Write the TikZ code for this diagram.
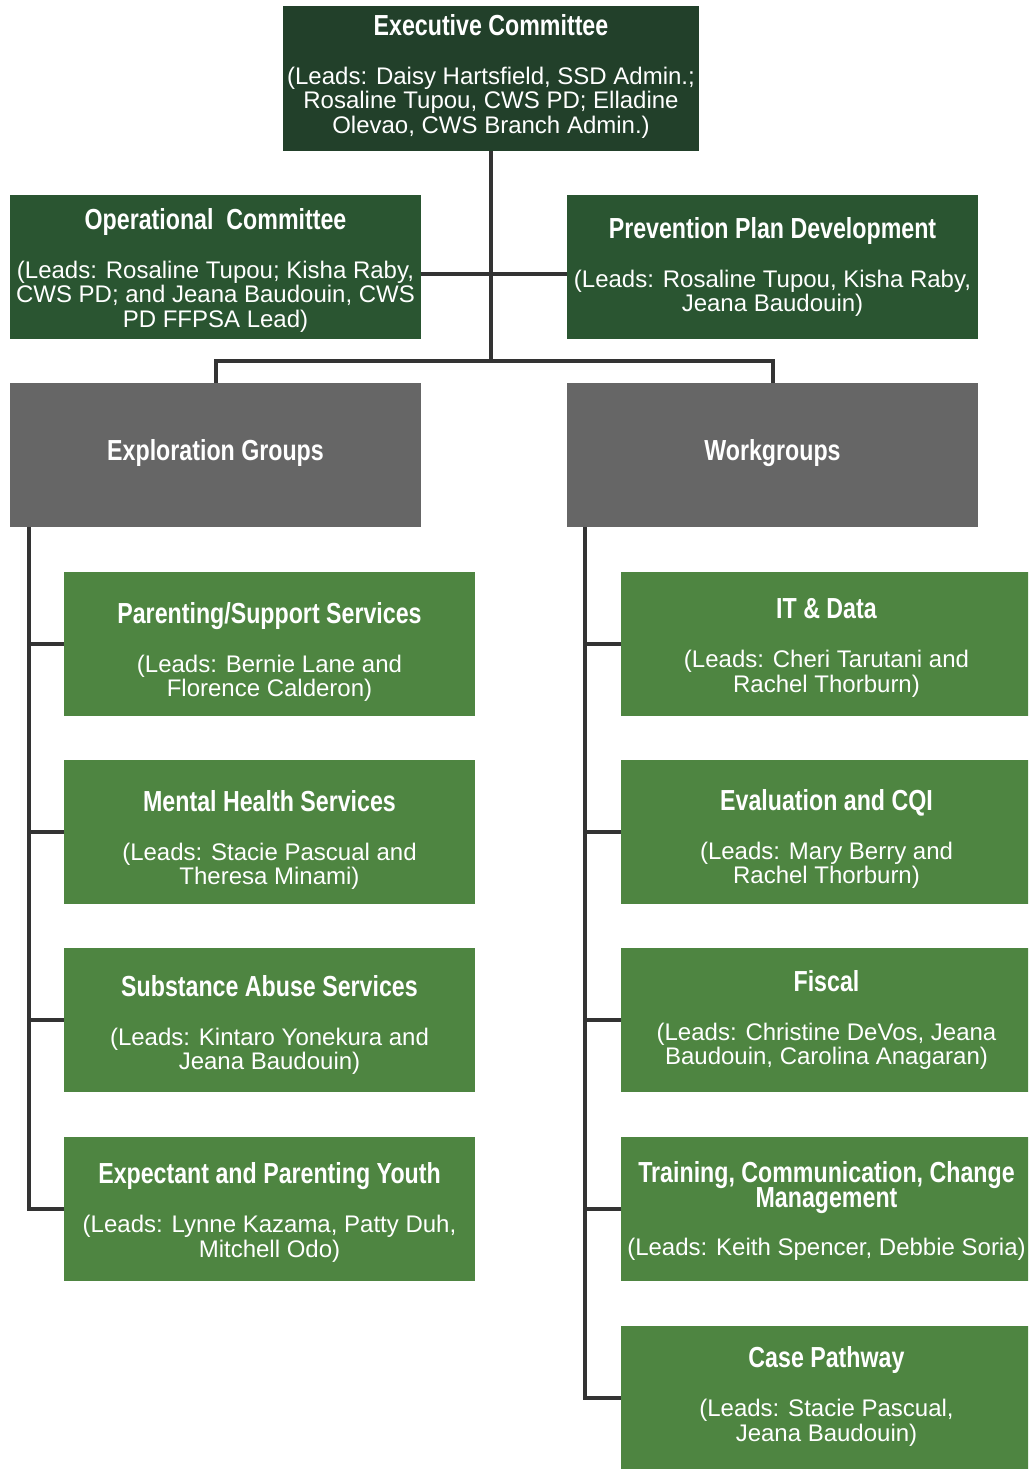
\documentclass[tikz,border=0pt]{standalone}
\usepackage{fontspec}
\setmainfont{Liberation Sans}
\newfontfamily\ttlfont[FakeStretch=0.8]{Liberation Sans}
\usepackage{xcolor}

\definecolor{execgreen}{HTML}{22402A}
\definecolor{opgreen}{HTML}{2A5531}
\definecolor{grpgray}{HTML}{666666}
\definecolor{leafgreen}{HTML}{4E8541}
\definecolor{linkgray}{HTML}{333333}

\newcommand{\ttl}[1]{{\ttlfont\bfseries\fontsize{29}{24.5}\selectfont #1}}
\newcommand{\boxtext}[2]{\ttl{#1}\\[24.5pt]#2}

\tikzset{
  box/.style={minimum width=411pt, minimum height=144pt, inner sep=0pt},
  execbox/.style={box, fill=execgreen, minimum width=416pt, minimum height=145pt},
  opbox/.style={box, fill=opgreen},
  grpbox/.style={box, fill=grpgray},
  leafbox/.style={box, fill=leafgreen},
  boxlabel/.style={inner sep=0pt, align=center, text=white,
    font={\fontsize{24}{24.5}\selectfont\lineskiplimit=-50pt}},
  link/.style={draw=linkgray, line width=4pt}
}

\begin{document}
\begin{tikzpicture}[x=1pt,y=-1pt]
  \useasboundingbox (0,0) rectangle (1028,1469);
  \clip (0,0) rectangle (1028,1469);

  \node[execbox] (exec) at (491,78.5) {};
  \node[boxlabel] (exec-t) at ([yshift=2.5pt]exec.center) {\boxtext{Executive Committee}{(Leads: Daisy Hartsfield, SSD Admin.;\\Rosaline Tupou, CWS PD; Elladine\\Olevao, CWS Branch Admin.)}};

  \node[opbox] (oper) at (215.5,267) {};
  \node[boxlabel] (oper-t) at ([yshift=-3pt]oper.center) {\boxtext{Operational\ \ Committee}{(Leads: Rosaline Tupou; Kisha Raby,\\CWS PD; and Jeana Baudouin, CWS\\PD FFPSA Lead)}};
  \node[opbox] (prev) at (772.5,267) {};
  \node[boxlabel] (prev-t) at (prev.center) {\boxtext{Prevention Plan Development}{(Leads: Rosaline Tupou, Kisha Raby,\\Jeana Baudouin)}};

  \node[grpbox] (explore) at (215.5,455) {};
  \node[boxlabel] (explore-t) at ([yshift=2pt]explore.center) {\ttl{Exploration Groups}};
  \node[grpbox] (work) at (772.5,455) {};
  \node[boxlabel] (work-t) at ([yshift=2pt]work.center) {\ttl{Workgroups}};

  % exploration groups
  \node[leafbox] (parent) at (269.5,644) {};
  \node[boxlabel] (parent-t) at ([yshift=-8pt]parent.center) {\boxtext{Parenting/Support Services}{(Leads: Bernie Lane and\\Florence Calderon)}};
  \node[leafbox] (mental) at (269.5,832) {};
  \node[boxlabel] (mental-t) at ([yshift=-8pt]mental.center) {\boxtext{Mental Health Services}{(Leads: Stacie Pascual and\\Theresa Minami)}};
  \node[leafbox] (subst) at (269.5,1020) {};
  \node[boxlabel] (subst-t) at ([yshift=-5pt]subst.center) {\boxtext{Substance Abuse Services}{(Leads: Kintaro Yonekura and\\Jeana Baudouin)}};
  \node[leafbox] (youth) at (269.5,1209) {};
  \node[boxlabel] (youth-t) at ([yshift=-3.5pt]youth.center) {\boxtext{Expectant and Parenting Youth}{(Leads: Lynne Kazama, Patty Duh,\\Mitchell Odo)}};

  % workgroups
  \node[leafbox] (itdata) at (826.5,644) {};
  \node[boxlabel] (itdata-t) at ([yshift=-4pt]itdata.center) {\boxtext{IT \& Data}{(Leads: Cheri Tarutani and\\Rachel Thorburn)}};
  \node[leafbox] (eval) at (826.5,832) {};
  \node[boxlabel] (eval-t) at ([yshift=-7pt]eval.center) {\boxtext{Evaluation and CQI}{(Leads: Mary Berry and\\Rachel Thorburn)}};
  \node[leafbox] (fiscal) at (826.5,1020) {};
  \node[boxlabel] (fiscal-t) at (fiscal.center) {\boxtext{Fiscal}{(Leads: Christine DeVos, Jeana\\Baudouin, Carolina Anagaran)}};
  \node[leafbox] (train) at (826.5,1209) {};
  \node[boxlabel] (train-t) at ([yshift=-2pt]train.center) {\ttl{Training, Communication, Change}\\\ttl{Management}\\[23.5pt](Leads: Keith Spencer, Debbie Soria)};
  \node[leafbox] (case) at (826.5,1398) {};
  \node[boxlabel] (case-t) at ([yshift=1.5pt]case.center) {\boxtext{Case Pathway}{(Leads: Stacie Pascual,\\Jeana Baudouin)}};

  \coordinate (split) at (exec.south |- 0,361);
  \coordinate (ltop) at ([xshift=19pt]explore.south west);
  \coordinate (rtop) at ([xshift=18pt]work.south west);

  \draw[link] (exec.south) -- (split);
  \draw[link] ([yshift=-7pt]oper.east) -- ([yshift=-7pt]prev.west);
  \draw[link] (explore.north) |- (split) -| (work.north);

  \draw[link] (ltop) |- (parent.west);
  \draw[link] (ltop) |- (mental.west);
  \draw[link] (ltop) |- (subst.west);
  \draw[link] (ltop) |- (youth.west);

  \draw[link] (rtop) |- (itdata.west);
  \draw[link] (rtop) |- (eval.west);
  \draw[link] (rtop) |- (fiscal.west);
  \draw[link] (rtop) |- (train.west);
  \draw[link] (rtop) |- (case.west);
\end{tikzpicture}
\end{document}
